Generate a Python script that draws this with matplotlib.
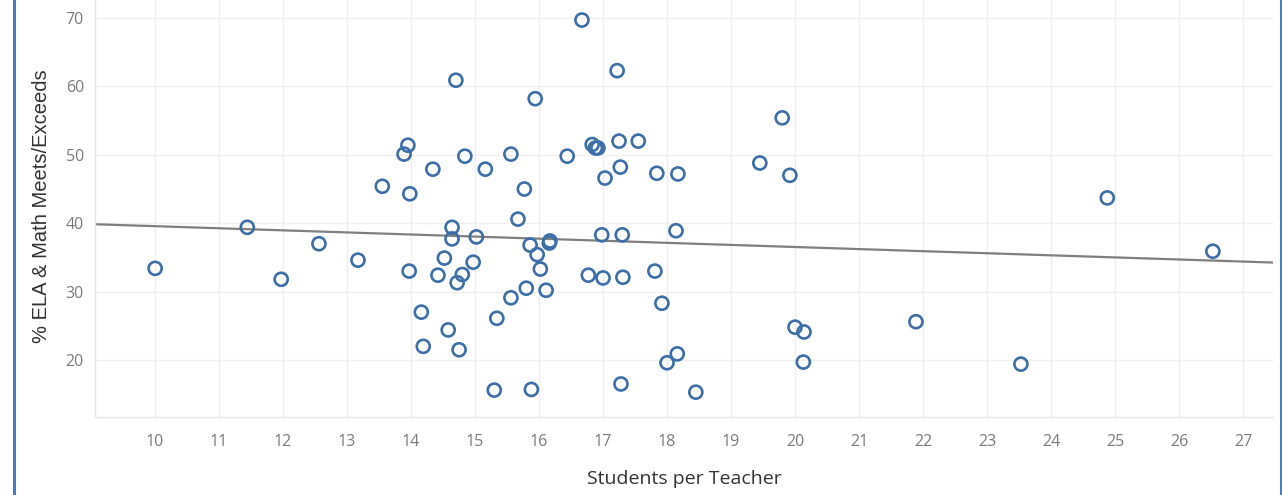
import matplotlib
matplotlib.use("Agg")
import matplotlib.pyplot as plt
from matplotlib.lines import Line2D
import numpy as np

# Data
students_per_teacher = [
    10.0, 11.44, 11.97, 12.56, 13.17, 13.55, 13.89, 13.95, 13.98, 13.97,
    14.16, 14.19, 14.34, 14.42, 14.52, 14.58, 14.64, 14.64, 14.70, 14.72,
    14.75, 14.80, 14.84, 14.97, 15.02, 15.16, 15.30, 15.34, 15.56, 15.56,
    15.67, 15.77, 15.80, 15.86, 15.88, 15.94, 15.97, 16.02, 16.11, 16.16,
    16.17, 16.44, 16.67, 16.77, 16.83, 16.88, 16.92, 16.98, 17.00, 17.03,
    17.22, 17.25, 17.27, 17.28, 17.30, 17.31, 17.55, 17.84, 17.81, 17.92,
    18.00, 18.14, 18.16, 18.17, 18.45, 19.45, 19.80, 19.92, 20.00, 20.14,
    20.13, 21.89, 23.53, 24.88, 26.53,
]
pct_meets_exceeds = [
    33.4, 39.4, 31.8, 37.0, 34.6, 45.4, 50.1, 51.4, 44.3, 33.0,
    27.0, 22.0, 47.9, 32.4, 34.9, 24.4, 39.4, 37.7, 60.9, 31.3,
    21.5, 32.5, 49.8, 34.3, 38.0, 47.9, 15.6, 26.1, 29.1, 50.1,
    40.6, 45.0, 30.5, 36.8, 15.7, 58.2, 35.4, 33.3, 30.2, 37.1,
    37.4, 49.8, 69.7, 32.4, 51.5, 51.0, 51.0, 38.3, 32.0, 46.6,
    62.3, 52.0, 48.2, 16.5, 38.3, 32.1, 52.0, 47.3, 33.0, 28.3,
    19.6, 38.9, 20.9, 47.2, 15.3, 48.8, 55.4, 47.0, 24.8, 24.1,
    19.7, 25.6, 19.4, 43.7, 35.9,
]
# Trend line: value at both ends of the x range
trend_x = [9.06, 27.47]
trend_y = [39.85, 34.25]

x_ticks = list(range(10, 28))
y_ticks = [20, 30, 40, 50, 60, 70]

W, H = 1282, 495
fig = plt.figure(figsize=(W / 100, H / 100), dpi=100)
ax = fig.add_axes([95 / W, 1 - 417 / H, (1273 - 95) / W, 417 / H])

grid_c = "#efefef"
ax.set_xlim(9.06, 27.47)
ax.set_ylim(11.67, 72.63)
ax.set_xticks(x_ticks)
ax.set_yticks(y_ticks)
ax.grid(True, color=grid_c, linewidth=1.0)
ax.set_axisbelow(True)
for s in ["top", "right"]:
    ax.spines[s].set_visible(False)
for s in ["left", "bottom"]:
    ax.spines[s].set_color("#e6e6e6")
    ax.spines[s].set_linewidth(1.0)

ax.tick_params(axis="both", length=0, labelsize=11.5, labelcolor="#7a7a7a")
ax.tick_params(axis="x", pad=12)
ax.tick_params(axis="y", pad=8)
for lbl in ax.get_xticklabels() + ax.get_yticklabels():
    lbl.set_family("Open Sans")

ax.plot(trend_x, trend_y, color="#7f7f7f", linewidth=1.6, zorder=2)
ax.scatter(students_per_teacher, pct_meets_exceeds, s=88, facecolors="none",
           edgecolors="#3d6ea8", linewidths=1.9, zorder=3)

fig.text((95 + 1273) / 2 / W, 1 - 479 / H, "Students per Teacher",
         ha="center", va="center", fontsize=14, color="#333333", family="Open Sans")
fig.text(42 / W, 1 - 206 / H, "% ELA & Math Meets/Exceeds", rotation=90,
         ha="center", va="center", fontsize=14.5, color="#333333",
         family="Liberation Sans")

# Blue frame lines at left and right edges
fig.add_artist(Line2D([14 / W, 14 / W], [0, 1], color="#4a7bbf", linewidth=2.2,
                      transform=fig.transFigure))
fig.add_artist(Line2D([1281 / W, 1281 / W], [0, 1], color="#4a7bbf", linewidth=2.2,
                      transform=fig.transFigure))

fig.savefig("out.png", dpi=100)
